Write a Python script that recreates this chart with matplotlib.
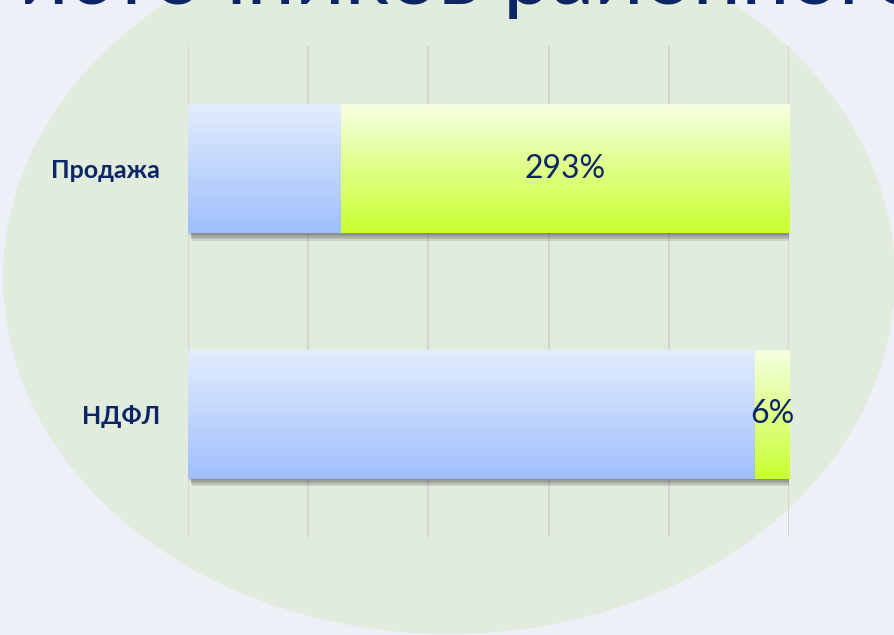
import numpy as np
import matplotlib
matplotlib.use("Agg")
import matplotlib.pyplot as plt
from matplotlib.patches import Ellipse
from matplotlib.colors import LinearSegmentedColormap
import matplotlib.patheffects as pe

plt.rcParams['font.family'] = ['Lato', 'DejaVu Sans']

# data
categories = ['Продажа', 'НДФЛ']
base_values = [100, 100]
growth_values = [293, 6]
growth_labels = ['293%', '6%']
title_line = 'источников районного'

navy = '#0b2566'
blue_top, blue_bottom = '#e3edfd', '#9fbffc'
green_top, green_bottom = '#f5ffe2', '#c9ff2e'

fig = plt.figure(figsize=(8.94, 6.35), dpi=100)
fig.patch.set_facecolor('#eef0f8')

# slide background with the pale green ellipse
bg = fig.add_axes([0, 0, 1, 1], zorder=0)
bg.set_xlim(0, 894)
bg.set_ylim(635, 0)
bg.axis('off')
bg.add_patch(Ellipse((449, 278), 892, 712, facecolor='#e1ecdc', edgecolor='none'))

# cut-off title line at top of slide
title = bg.text(0, 4, title_line, fontsize=62, color=navy, va='baseline', ha='left')
fig.canvas.draw()
r = fig.canvas.get_renderer()
probe = bg.text(0, 0, 'источников ', fontsize=62, va='baseline', ha='left')
w = probe.get_window_extent(r).width
probe.remove()
title.set_x(503 - w)

# chart
ax = fig.add_axes([188 / 894, 98 / 635, 601 / 894, 491 / 635], zorder=1)
ax.patch.set_alpha(0)

totals = np.array(base_values, float) + np.array(growth_values, float)
base_share = np.array(base_values) / totals
growth_share = np.array(growth_values) / totals
y = np.arange(len(categories))
h = 0.525

# soft drop shadow built from a few faint offset copies
shadow = [pe.SimplePatchShadow(offset=(0.6 * k, -1.1 * k), shadow_rgbFace='#3a3a3a', alpha=0.13)
          for k in range(1, 6)] + [pe.Normal()]
bars_base = ax.barh(y, base_share, height=h, color=blue_bottom, path_effects=shadow, zorder=2)
bars_growth = ax.barh(y, growth_share, left=base_share, height=h, color=green_bottom,
                      path_effects=shadow, zorder=2)

grad = np.linspace(0, 1, 256).reshape(-1, 1)
cm_blue = LinearSegmentedColormap.from_list('b', [blue_top, blue_bottom])
cm_green = LinearSegmentedColormap.from_list('g', [green_top, green_bottom])
for bars, cm in [(bars_base, cm_blue), (bars_growth, cm_green)]:
    for b in bars:
        x0, y0 = b.get_x(), b.get_y()
        im = ax.imshow(grad, cmap=cm, aspect='auto', origin='upper', zorder=3,
                       extent=(x0, x0 + b.get_width(), y0 + b.get_height(), y0))
        im.set_clip_path(b)

for i, lab in enumerate(growth_labels):
    ax.text(base_share[i] + growth_share[i] / 2, y[i], lab, ha='center', va='center',
            fontsize=23, color=navy, zorder=4)

ax.set_xlim(0, 1)
ax.set_ylim(1.5, -0.5)
ax.set_xticks(np.linspace(0, 1, 6))
ax.set_xticklabels([])
ax.grid(axis='x', color='#d3d3d3', lw=1.3, zorder=1)
ax.set_axisbelow(True)
ax.set_yticks(y)
ax.set_yticklabels(categories, fontsize=18, fontweight='bold', color=navy)
ax.tick_params(length=0, pad=20)
for s in ax.spines.values():
    s.set_visible(False)

fig.savefig('out.png', dpi=100, facecolor=fig.get_facecolor())
